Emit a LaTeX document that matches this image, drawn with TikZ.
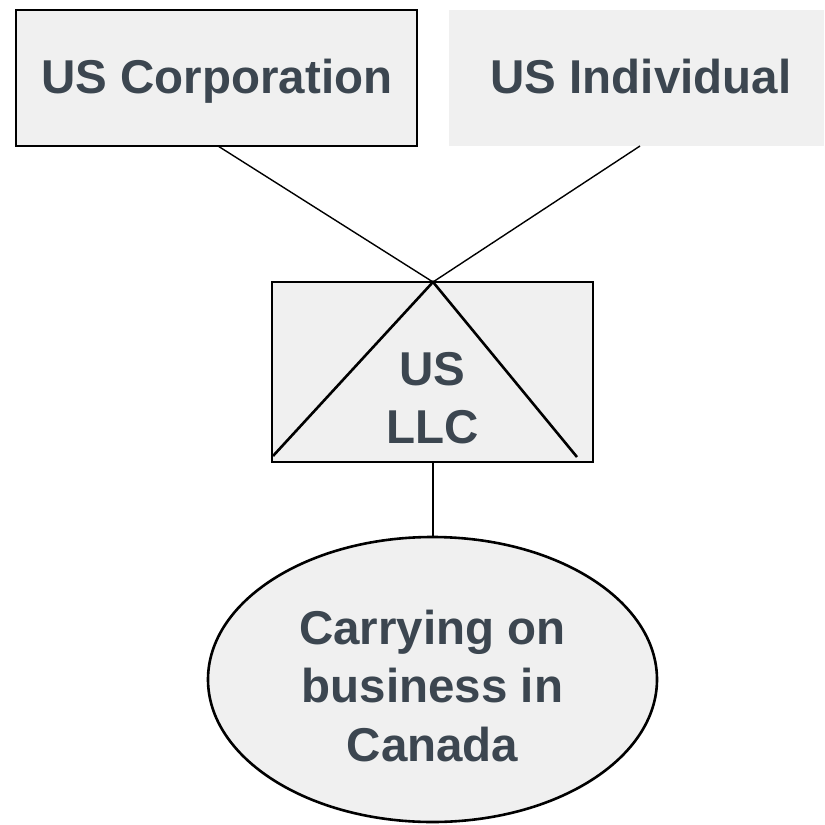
\documentclass[tikz,border=0pt]{standalone}
\usepackage{fontspec}
\setmainfont{Liberation Sans}
\usetikzlibrary{shapes.geometric}
\definecolor{boxfill}{HTML}{F0F0F0}
\definecolor{txt}{HTML}{3C4650}
\tikzset{
  lbl/.style={font=\bfseries\fontsize{47.5}{58.5}\selectfont, text=txt, align=center, inner sep=0pt},
  boxed/.style={draw=black, line width=2.6pt, fill=boxfill},
  thin/.style={line width=1.4pt},
  thick/.style={line width=2.6pt}
}
\begin{document}
\begin{tikzpicture}[x=1pt,y=-1pt]
\useasboundingbox (0,0) rectangle (825,825);
% boxes
\draw[boxed] (16,10) rectangle (417,146);
\fill[boxfill] (449,10) rectangle (824,146);
\draw[boxed] (272,282) rectangle (593,462);
\draw[boxed] (432.5,679.5) ellipse [x radius=224.5, y radius=142.5];
% text nodes
\node[lbl, anchor=base] (corp) at (217,93) {US Corporation};
\node[lbl, anchor=base] (indiv) at (641,93) {US Individual};
\node[lbl] (llc) at (432.5,398) {US\\LLC};
\node[lbl] (cb) at (432.5,686) {Carrying on\\business in\\Canada};
% connector points
\coordinate (apex) at (433,282);
\coordinate (corpb) at (218,146);
\coordinate (indivb) at (640,146);
\coordinate (tl) at (273,456);
\coordinate (tr) at (577,457);
\coordinate (llcb) at (433,462);
\coordinate (elltop) at (433,537);
\draw[thin] (corpb) -- (apex);
\draw[thin] (indivb) -- (apex);
\draw[thick] (tl) -- (apex) -- (tr);
\draw[thick] (llcb) -- (elltop);
\end{tikzpicture}
\end{document}
